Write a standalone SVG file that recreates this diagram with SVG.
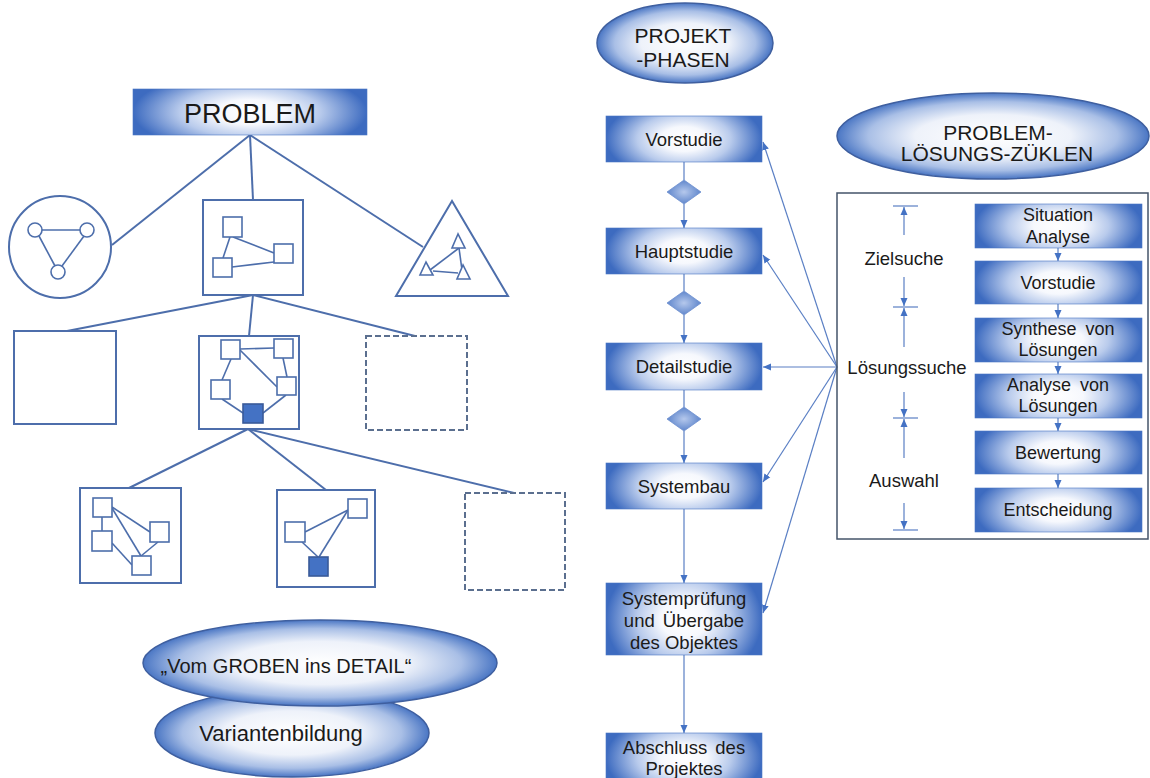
<svg xmlns="http://www.w3.org/2000/svg" width="1150" height="778" viewBox="0 0 1150 778">
<defs>
<style>
.ln{stroke:#4d6eab;stroke-width:2;fill:none}
.sq{stroke:#4d6eab;stroke-width:2;fill:#fff}
.sqs{stroke:#4d6eab;stroke-width:1.6;fill:#fff}
.fill{stroke:#3a5a99;stroke-width:1.6;fill:#4472C4}
.thin{stroke:#4d6eab;stroke-width:1.6;fill:none}
.dash{stroke:#5b6f8f;stroke-width:2;fill:#fff;stroke-dasharray:6 3}
.fl{stroke:#5a7fc4;stroke-width:1.2;fill:none}
.box{fill:url(#gBox);stroke:#4a75c2;stroke-width:0.6}
.ell{fill:url(#gEll);stroke:#3f5f9f;stroke-width:1.5}
.dia{fill:url(#gDia);stroke:#6d8fcf;stroke-width:0.8}
.t{font-family:"Liberation Sans",Arial,sans-serif;fill:#1a1a1a;text-anchor:middle}
</style>
<radialGradient id="gBox" cx="0.5" cy="0.5" r="0.5" gradientTransform="translate(0.5 0.5) scale(1 1.8) translate(-0.5 -0.5)">
<stop offset="0" stop-color="#ffffff"/>
<stop offset="0.3" stop-color="#f6f8fd"/>
<stop offset="0.6" stop-color="#b9cbec"/>
<stop offset="1" stop-color="#3d6bc0"/>
</radialGradient>
<radialGradient id="gEll" cx="0.5" cy="0.5" r="0.5">
<stop offset="0" stop-color="#ffffff"/>
<stop offset="0.5" stop-color="#eef2fa"/>
<stop offset="0.8" stop-color="#a9bfe6"/>
<stop offset="1" stop-color="#4a76c4"/>
</radialGradient>
<radialGradient id="gDia" cx="0.5" cy="0.5" r="0.5">
<stop offset="0" stop-color="#b5c8ec"/>
<stop offset="1" stop-color="#5f86cc"/>
</radialGradient>
<marker id="ah" viewBox="0 0 8 8" refX="8" refY="4" markerWidth="8" markerHeight="8" markerUnits="userSpaceOnUse" orient="auto">
<path d="M0,0.5 L8,4 L0,7.5z" fill="#4472C4"/>
</marker>
</defs>
<rect width="1150" height="778" fill="#ffffff"/>

<!-- connectors -->
<g id="connectors">
<!-- left tree -->
<line class="ln" x1="250" y1="135" x2="112" y2="245"/>
<line class="ln" x1="250" y1="135" x2="253" y2="200"/>
<line class="ln" x1="250" y1="135" x2="423" y2="247"/>
<line class="ln" x1="253" y1="295" x2="67" y2="331"/>
<line class="ln" x1="253" y1="295" x2="249" y2="336"/>
<line class="ln" x1="253" y1="295" x2="415" y2="336"/>
<line class="ln" x1="248" y1="429" x2="129" y2="488"/>
<line class="ln" x1="248" y1="429" x2="326" y2="490"/>
<line class="ln" x1="248" y1="429" x2="514" y2="493"/>
<!-- project phases -->
<line class="fl" x1="684" y1="162" x2="684" y2="180"/>
<line class="fl" x1="684" y1="204" x2="684" y2="228" marker-end="url(#ah)"/>
<line class="fl" x1="684" y1="274" x2="684" y2="291"/>
<line class="fl" x1="684" y1="315" x2="684" y2="343" marker-end="url(#ah)"/>
<line class="fl" x1="684" y1="390" x2="684" y2="407"/>
<line class="fl" x1="684" y1="431" x2="684" y2="463" marker-end="url(#ah)"/>
<line class="fl" x1="684" y1="509" x2="684" y2="583" marker-end="url(#ah)"/>
<line class="fl" x1="684" y1="655" x2="684" y2="733" marker-end="url(#ah)"/>
<!-- fan -->
<line class="fl" x1="837" y1="367" x2="763" y2="142" marker-end="url(#ah)"/>
<line class="fl" x1="837" y1="367" x2="763" y2="255" marker-end="url(#ah)"/>
<line class="fl" x1="837" y1="367" x2="763" y2="367" marker-end="url(#ah)"/>
<line class="fl" x1="837" y1="367" x2="763" y2="482" marker-end="url(#ah)"/>
<line class="fl" x1="837" y1="367" x2="763" y2="613" marker-end="url(#ah)"/>
<!-- cycle boxes -->
<line class="fl" x1="1058" y1="248" x2="1058" y2="261" marker-end="url(#ah)"/>
<line class="fl" x1="1058" y1="304" x2="1058" y2="318" marker-end="url(#ah)"/>
<line class="fl" x1="1058" y1="362" x2="1058" y2="374" marker-end="url(#ah)"/>
<line class="fl" x1="1058" y1="418" x2="1058" y2="431" marker-end="url(#ah)"/>
<line class="fl" x1="1058" y1="474" x2="1058" y2="488" marker-end="url(#ah)"/>
</g>

<!-- Left tree nodes -->
<g id="problem">
<rect class="box" x="133" y="89" width="234" height="46"/>
<text class="t" x="250" y="123" font-size="27">PROBLEM</text>
</g>
<g id="circle-variant">
<circle class="sq" cx="60" cy="247" r="51"/>
<line class="thin" x1="42" y1="230" x2="80" y2="230"/>
<line class="thin" x1="39" y1="236" x2="55" y2="266"/>
<line class="thin" x1="84" y1="236" x2="62" y2="266"/>
<circle class="sqs" cx="35" cy="230" r="7"/>
<circle class="sqs" cx="87" cy="230" r="7"/>
<circle class="sqs" cx="58" cy="272" r="7"/>
</g>
<g id="square-variant">
<rect class="sq" x="203" y="200" width="100" height="95"/>
<line class="thin" x1="230" y1="237" x2="223" y2="258"/>
<line class="thin" x1="233" y1="237" x2="274" y2="253"/>
<line class="thin" x1="232" y1="267" x2="274" y2="262"/>
<rect class="sqs" x="223" y="217" width="19" height="20"/>
<rect class="sqs" x="274" y="244" width="19" height="19"/>
<rect class="sqs" x="213" y="258" width="19" height="19"/>
</g>
<g id="triangle-variant">
<polygon class="sq" points="452,201 396,296 508,296"/>
<line class="thin" x1="459" y1="248" x2="430" y2="270"/>
<line class="thin" x1="459" y1="248" x2="462" y2="270"/>
<line class="thin" x1="433" y1="271" x2="458" y2="273"/>
<polygon class="sqs" points="458,234 452,248 465,248"/>
<polygon class="sqs" points="426,262 420,275 433,275"/>
<polygon class="sqs" points="463,265 457,279 470,279"/>
</g>
<g id="level2-empty">
<rect class="sq" x="14" y="331" width="102" height="93"/>
</g>
<g id="level2-detail">
<rect class="sq" x="199" y="336" width="100" height="93"/>
<line class="thin" x1="240" y1="349" x2="274" y2="348"/>
<line class="thin" x1="240" y1="350" x2="277" y2="387"/>
<line class="thin" x1="231" y1="359" x2="222" y2="380"/>
<line class="thin" x1="283" y1="358" x2="287" y2="377"/>
<line class="thin" x1="222" y1="399" x2="243" y2="413"/>
<line class="thin" x1="286" y1="395" x2="263" y2="413"/>
<rect class="sqs" x="221" y="340" width="19" height="19"/>
<rect class="sqs" x="274" y="339" width="19" height="19"/>
<rect class="sqs" x="211" y="380" width="19" height="19"/>
<rect class="sqs" x="277" y="377" width="19" height="18"/>
<rect class="fill" x="243" y="404" width="20" height="19"/>
</g>
<g id="level2-dashed">
<rect class="dash" x="366" y="336" width="101" height="94"/>
</g>
<g id="level3-a">
<rect class="sq" x="80" y="488" width="101" height="95"/>
<line class="thin" x1="102" y1="517" x2="102" y2="531"/>
<line class="thin" x1="112" y1="507" x2="150" y2="532"/>
<line class="thin" x1="112" y1="508" x2="141" y2="556"/>
<line class="thin" x1="112" y1="543" x2="132" y2="565"/>
<line class="thin" x1="158" y1="542" x2="141" y2="556"/>
<rect class="sqs" x="93" y="498" width="19" height="19"/>
<rect class="sqs" x="92" y="531" width="20" height="20"/>
<rect class="sqs" x="150" y="522" width="19" height="20"/>
<rect class="sqs" x="132" y="556" width="19" height="19"/>
</g>
<g id="level3-b">
<rect class="sq" x="277" y="490" width="98" height="97"/>
<line class="thin" x1="305" y1="532" x2="348" y2="510"/>
<line class="thin" x1="302" y1="542" x2="318" y2="557"/>
<line class="thin" x1="348" y1="510" x2="319" y2="557"/>
<rect class="sqs" x="285" y="522" width="20" height="20"/>
<rect class="sqs" x="348" y="499" width="19" height="19"/>
<rect class="fill" x="309" y="557" width="19" height="19"/>
</g>
<g id="level3-dashed">
<rect class="dash" x="465" y="493" width="100" height="97"/>
</g>

<!-- bottom ellipses -->
<g id="varianten">
<ellipse class="ell" cx="292" cy="733" rx="137" ry="44"/>
<text class="t" x="281" y="741" font-size="22">Variantenbildung</text>
</g>
<g id="grob-detail">
<ellipse class="ell" cx="320" cy="663" rx="177" ry="43"/>
<text class="t" x="286" y="673" font-size="20">„Vom GROBEN ins DETAIL“</text>
</g>

<!-- project phases -->
<g id="projektphasen">
<ellipse class="ell" cx="685" cy="43" rx="88" ry="40"/>
<text class="t" x="683" y="43" font-size="21">PROJEKT</text>
<text class="t" x="683" y="67" font-size="21">-PHASEN</text>
</g>
<g id="d1"><polygon class="dia" points="684,180 701,192 684,204 667,192"/></g>
<g id="d2"><polygon class="dia" points="684,291 701,303 684,315 667,303"/></g>
<g id="d3"><polygon class="dia" points="684,407 701,419 684,431 667,419"/></g>
<g id="vorstudie">
<rect class="box" x="606" y="116" width="156" height="46"/>
<text class="t" x="684" y="146" font-size="18.5">Vorstudie</text>
</g>
<g id="hauptstudie">
<rect class="box" x="606" y="228" width="156" height="46"/>
<text class="t" x="684" y="258" font-size="18.5">Hauptstudie</text>
</g>
<g id="detailstudie">
<rect class="box" x="606" y="343" width="156" height="47"/>
<text class="t" x="684" y="373" font-size="18.5">Detailstudie</text>
</g>
<g id="systembau">
<rect class="box" x="606" y="463" width="156" height="46"/>
<text class="t" x="684" y="493" font-size="18.5">Systembau</text>
</g>
<g id="systempruefung">
<rect class="box" x="606" y="583" width="156" height="72"/>
<text class="t" x="684" y="605" font-size="18.5">Systemprüfung</text>
<text class="t" x="684" y="627" font-size="18.5" word-spacing="3">und Übergabe</text>
<text class="t" x="684" y="649" font-size="18.5">des Objektes</text>
</g>
<g id="abschluss">
<rect class="box" x="606" y="733" width="156" height="50"/>
<text class="t" x="684" y="754" font-size="18.5" word-spacing="3">Abschluss des</text>
<text class="t" x="684" y="775" font-size="18.5">Projektes</text>
</g>

<!-- problem solving cycle -->
<g id="zyklen-title">
<ellipse class="ell" cx="993" cy="136" rx="156" ry="43"/>
<text class="t" x="998" y="140" font-size="21">PROBLEM-</text>
<text class="t" x="997" y="161" font-size="21">LÖSUNGS-ZÜKLEN</text>
</g>
<g id="zyklen-panel">
<rect x="837" y="193" width="311" height="346" fill="none" stroke="#44546a" stroke-width="1.5"/>
</g>
<g id="dimensions">
<line class="fl" x1="893" y1="206" x2="918" y2="206"/>
<line class="fl" x1="904" y1="235" x2="904" y2="207" marker-end="url(#ah)"/>
<text class="t" x="904" y="265" font-size="18.5">Zielsuche</text>
<line class="fl" x1="904" y1="277" x2="904" y2="306" marker-end="url(#ah)"/>
<line class="fl" x1="893" y1="307" x2="918" y2="307"/>
<line class="fl" x1="904" y1="347" x2="904" y2="308" marker-end="url(#ah)"/>
<text class="t" x="907" y="374" font-size="18.5">Lösungssuche</text>
<line class="fl" x1="904" y1="392" x2="904" y2="417" marker-end="url(#ah)"/>
<line class="fl" x1="893" y1="418" x2="918" y2="418"/>
<line class="fl" x1="904" y1="458" x2="904" y2="419" marker-end="url(#ah)"/>
<text class="t" x="904" y="487" font-size="18.5">Auswahl</text>
<line class="fl" x1="904" y1="503" x2="904" y2="529" marker-end="url(#ah)"/>
<line class="fl" x1="893" y1="530" x2="918" y2="530"/>
</g>
<g id="situation">
<rect class="box" x="975" y="204" width="167" height="44"/>
<text class="t" x="1058" y="221" font-size="18">Situation</text>
<text class="t" x="1058" y="243" font-size="18">Analyse</text>
</g>
<g id="vorstudie2">
<rect class="box" x="975" y="261" width="167" height="43"/>
<text class="t" x="1058" y="289" font-size="18">Vorstudie</text>
</g>
<g id="synthese">
<rect class="box" x="975" y="318" width="167" height="44"/>
<text class="t" x="1058" y="335" font-size="18" word-spacing="4">Synthese von</text>
<text class="t" x="1058" y="356" font-size="18">Lösungen</text>
</g>
<g id="analyse">
<rect class="box" x="975" y="374" width="167" height="44"/>
<text class="t" x="1058" y="391" font-size="18" word-spacing="4">Analyse von</text>
<text class="t" x="1058" y="412" font-size="18">Lösungen</text>
</g>
<g id="bewertung">
<rect class="box" x="975" y="431" width="167" height="43"/>
<text class="t" x="1058" y="459" font-size="18">Bewertung</text>
</g>
<g id="entscheidung">
<rect class="box" x="975" y="488" width="167" height="44"/>
<text class="t" x="1058" y="516" font-size="18">Entscheidung</text>
</g>
</svg>
